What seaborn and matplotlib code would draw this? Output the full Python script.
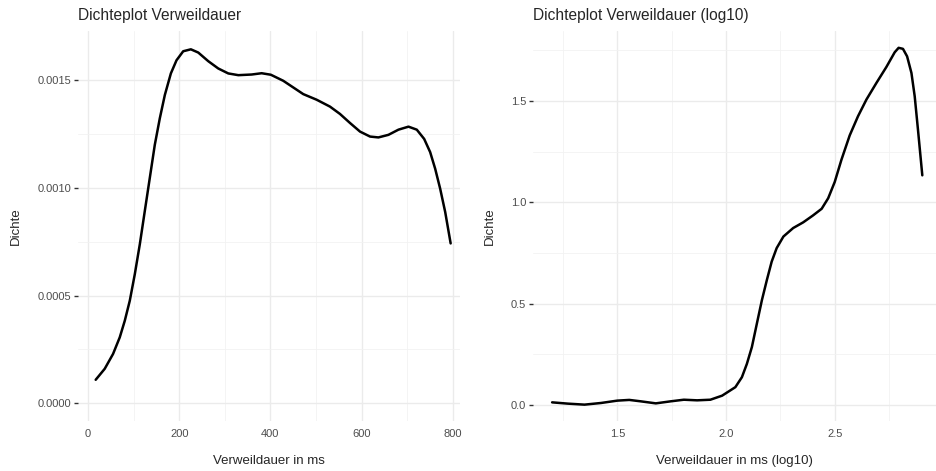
import numpy as np
import matplotlib
matplotlib.use("Agg")
import matplotlib.pyplot as plt
import seaborn as sns
from matplotlib.ticker import MultipleLocator

# density curve (ms, density)
dwell_ms = [16.8, 36.6, 54.9, 69.6, 80.6, 91.6, 102.6, 113.6, 124.5, 135.5,
            146.5, 157.5, 168.5, 181.7, 194.1, 208.8, 225.6, 241.8, 263.7,
            285.7, 307.7, 329.7, 359, 380.9, 401, 428.2, 450.2, 472.2, 501.5,
            530.8, 552.7, 574.7, 596.7, 618.7, 637, 659, 681, 703, 721.2,
            737.4, 750.5, 761.5, 772.5, 783.5, 795.5]
dwell_density = [0.000109, 0.00016, 0.000229, 0.000306, 0.000383, 0.000476,
                 0.000599, 0.000738, 0.000892, 0.001046, 0.0012, 0.001323,
                 0.001431, 0.001531, 0.001592, 0.001634, 0.001643, 0.001628,
                 0.001588, 0.001554, 0.001531, 0.001523, 0.001526, 0.001532,
                 0.001525, 0.001497, 0.001466, 0.001435, 0.001409, 0.001377,
                 0.001343, 0.001301, 0.001261, 0.001238, 0.001234, 0.001246,
                 0.00127, 0.001284, 0.00127, 0.001227, 0.001166, 0.001089,
                 0.000996, 0.000888, 0.000742]

# density curve of log10 values, right panel
dwell_log = [1.2, 1.273, 1.349, 1.425, 1.5, 1.555, 1.608, 1.677, 1.745, 1.806,
             1.867, 1.928, 1.982, 2.043, 2.073, 2.096, 2.119, 2.142, 2.165,
             2.188, 2.21, 2.233, 2.264, 2.309, 2.355, 2.40, 2.44, 2.47, 2.5,
             2.531, 2.569, 2.607, 2.646, 2.692, 2.738, 2.776, 2.794, 2.814,
             2.833, 2.853, 2.868, 2.883, 2.903]
dwell_log_density = [0.013, 0.0066, 0.0017, 0.0099, 0.0215, 0.025, 0.018,
                     0.008, 0.018, 0.026, 0.023, 0.026, 0.046, 0.088, 0.137,
                     0.203, 0.286, 0.402, 0.517, 0.617, 0.707, 0.774, 0.831,
                     0.873, 0.901, 0.935, 0.968, 1.02, 1.1, 1.21, 1.33,
                     1.424, 1.507, 1.589, 1.668, 1.74, 1.762, 1.757, 1.72,
                     1.638, 1.523, 1.359, 1.133]

sns.set_theme(style="white")
plt.rcParams["font.family"] = ["Liberation Sans", "DejaVu Sans"]

W, H = 937, 471
fig = plt.figure(figsize=(W / 100, H / 100), dpi=100)


def px_axes(left, top, right, bottom):
    return fig.add_axes([left / W, 1 - bottom / H, (right - left) / W, (bottom - top) / H])


def style(ax, title, xlabel, xmaj, ymaj, xlim, ylim):
    ax.set_xlim(*xlim)
    ax.set_ylim(*ylim)
    ax.xaxis.set_major_locator(MultipleLocator(xmaj))
    ax.xaxis.set_minor_locator(MultipleLocator(xmaj / 2))
    ax.yaxis.set_major_locator(MultipleLocator(ymaj))
    ax.yaxis.set_minor_locator(MultipleLocator(ymaj / 2))
    ax.grid(which="major", color="#EBEBEB", lw=1.0)
    ax.grid(which="minor", color="#F2F2F2", lw=0.6)
    ax.set_axisbelow(True)
    for s in ax.spines.values():
        s.set_visible(False)
    ax.tick_params(axis="x", which="both", length=0, pad=6, labelsize=8, labelcolor="#4D4D4D")
    ax.tick_params(axis="y", which="major", length=3, width=1, color="#333333",
                   pad=2, labelsize=8, labelcolor="#4D4D4D", left=True)
    ax.tick_params(axis="y", which="minor", length=0)
    ax.set_title(title, loc="left", fontsize=11.2, pad=8)
    ax.set_xlabel(xlabel, fontsize=9.5, labelpad=11)
    ax.set_ylabel("Dichte", fontsize=9.5, labelpad=11)


ax1 = px_axes(78, 31, 460, 421)
sns.lineplot(x=dwell_ms, y=dwell_density, ax=ax1, color="black", lw=1.8)
style(ax1, "Dichteplot Verweildauer", "Verweildauer in ms", 200, 0.0005,
      (-22, 816), (-0.0000823, 0.001728))
ax1.yaxis.set_major_formatter(plt.FuncFormatter(lambda v, p: f"{v:.4f}"))

ax2 = px_axes(533, 31, 936, 421)
sns.lineplot(x=dwell_log, y=dwell_log_density, ax=ax2, color="black", lw=1.8)
style(ax2, "Dichteplot Verweildauer (log10)", "Verweildauer in ms (log10)", 0.5, 0.5,
      (1.112, 2.966), (-0.079, 1.845))
ax2.yaxis.set_major_formatter(plt.FuncFormatter(lambda v, p: f"{v:.1f}"))

fig.savefig("out.png", dpi=100)
